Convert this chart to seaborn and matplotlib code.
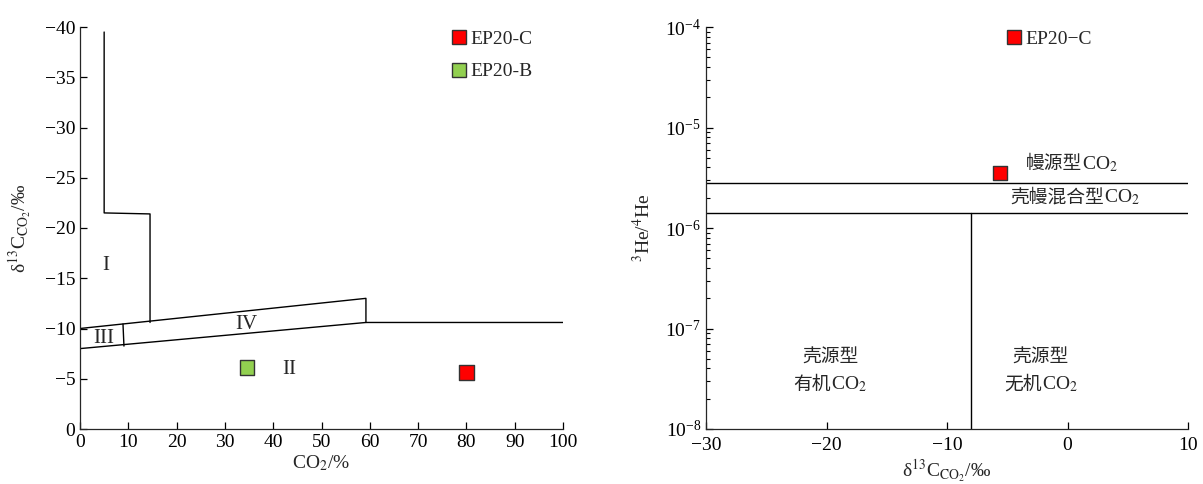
import numpy as np
import pandas as pd
import matplotlib
matplotlib.use('Agg')
import matplotlib.pyplot as plt
from matplotlib.offsetbox import TextArea, HPacker, VPacker, AnnotationBbox
import seaborn as sns

# sample points
samples = ['EP20-C', 'EP20-B']
co2_pct = [80.0, 34.6]
d13c = [-5.6, -6.1]
he_ratio = [3.5e-6]
sample_colors = {'EP20-C': '#ff0000', 'EP20-B': '#92d050'}

# field boundaries, left diagram (CO2 %, d13C)
b1_x = [5, 5, 14.5, 14.5]
b1_y = [-39.5, -21.5, -21.4, -10.6]
upper_x = [0, 59.2, 59.2]
upper_y = [-10.0, -13.0, -10.6]
lower_x = [0, 59.2, 100]
lower_y = [-8.0, -10.6, -10.6]
b3_x = [8.9, 9.1]
b3_y = [-10.45, -8.25]
field_names = ['I', 'II', 'III', 'IV']
field_x = [5.4, 43.3, 5.0, 34.4]
field_y = [-16.3, -5.9, -9.0, -10.4]

# right diagram boundaries
he_upper = 2.8e-6
he_lower = 1.4e-6
d13c_split = -8
# (first line, second line prefix) -> each label ends with CO2
right_l1 = ['', '', '壳源型', '壳源型']
right_l2 = ['幔源型', '壳幔混合型', '有机', '无机']
right_lx = [0.4, 0.6, -19.7, -2.2]
right_ly = [4.4e-6, 2.03e-6, 3.78e-8, 3.78e-8]

sns.set_theme(style='ticks')
plt.rcParams['font.family'] = ['Liberation Serif', 'Noto Sans CJK SC']
plt.rcParams['mathtext.fontset'] = 'stix'
plt.rcParams['font.size'] = 14
plt.rcParams['axes.linewidth'] = 0.9

fig = plt.figure(figsize=(12.03, 4.84), dpi=100)
ax1 = fig.add_axes([80 / 1203, 1 - 429 / 484, 483 / 1203, 402 / 484])
ax2 = fig.add_axes([706 / 1203, 1 - 429 / 484, 482 / 1203, 402 / 484])

# ---- left diagram
lw = 1.0
for xs, ys in [(b1_x, b1_y), (upper_x, upper_y), (lower_x, lower_y), (b3_x, b3_y)]:
    ax1.plot(xs, ys, color='black', lw=lw)
for name, x, y in zip(field_names, field_x, field_y):
    ax1.text(x, y, name, ha='center', va='center', fontsize=15)

df = pd.DataFrame({'sample': samples, 'co2': co2_pct, 'd13c': d13c})
sns.scatterplot(data=df, x='co2', y='d13c', hue='sample', palette=sample_colors,
                marker='s', s=110, edgecolor='#333333', linewidth=1.0, ax=ax1, zorder=5)
ax1.legend(loc='upper left', bbox_to_anchor=(0.744, 1.02), frameon=False, fontsize=14,
           handlelength=0.8, handletextpad=0.2, labelspacing=0.75, borderaxespad=0.2)

ax1.set_xlim(0, 100)
ax1.set_ylim(0, -40)
ax1.set_xticks(np.arange(0, 101, 10))
ax1.set_yticks(np.arange(0, -41, -5))
ax1.set_xlabel('CO$_2$/%', fontsize=14, labelpad=2)
ax1.set_ylabel('δ$^{13}$C$_{\\mathrm{CO_2}}$/‰', fontsize=14, labelpad=8)
ax1.tick_params(direction='in', length=5, width=0.9, labelsize=14, colors='black')
sns.despine(ax=ax1)

# ---- right diagram
ax2.set_yscale('log')
ax2.axhline(he_upper, color='black', lw=lw)
ax2.axhline(he_lower, color='black', lw=lw)
ax2.plot([d13c_split, d13c_split], [1e-8, he_lower], color='black', lw=lw)

cjk = dict(fontsize=13.5, family='Noto Sans CJK SC')
lat = dict(fontsize=14, family='Liberation Serif')
for l1, l2, x, y in zip(right_l1, right_l2, right_lx, right_ly):
    row = HPacker(children=[TextArea(l2, textprops=cjk), TextArea('CO$_2$', textprops=lat)],
                  align='baseline', pad=0, sep=0)
    box = row
    if l1:
        box = VPacker(children=[TextArea(l1, textprops=cjk), row], align='center', pad=0, sep=4)
    ab = AnnotationBbox(box, (x, y), xycoords='data', frameon=False, box_alignment=(0.5, 0.5))
    ax2.add_artist(ab)

df2 = pd.DataFrame({'sample': ['EP20−C'], 'd13c': [d13c[0]], 'he': he_ratio})
sns.scatterplot(data=df2, x='d13c', y='he', hue='sample', palette={'EP20−C': '#ff0000'},
                marker='s', s=110, edgecolor='#333333', linewidth=1.0, ax=ax2, zorder=5)
ax2.legend(loc='upper left', bbox_to_anchor=(0.599, 1.02), frameon=False, fontsize=14,
           handlelength=0.8, handletextpad=0.2, borderaxespad=0.2)

ax2.set_xlim(-30, 10)
ax2.set_ylim(1e-8, 1e-4)
ax2.set_xticks([-30, -20, -10, 0, 10])
ax2.set_xlabel('δ$^{13}$C$_{\\mathrm{CO_2}}$/‰', fontsize=14, labelpad=2)
ax2.set_ylabel('$^3$He/$^4$He', fontsize=14, labelpad=8)
ax2.tick_params(which='major', direction='in', length=5, width=0.9, labelsize=14, colors='black')
ax2.tick_params(axis='x', pad=6)
ax2.tick_params(which='minor', direction='in', length=3, width=0.8, colors='black')
sns.despine(ax=ax2)

fig.savefig('out.png', dpi=100)
